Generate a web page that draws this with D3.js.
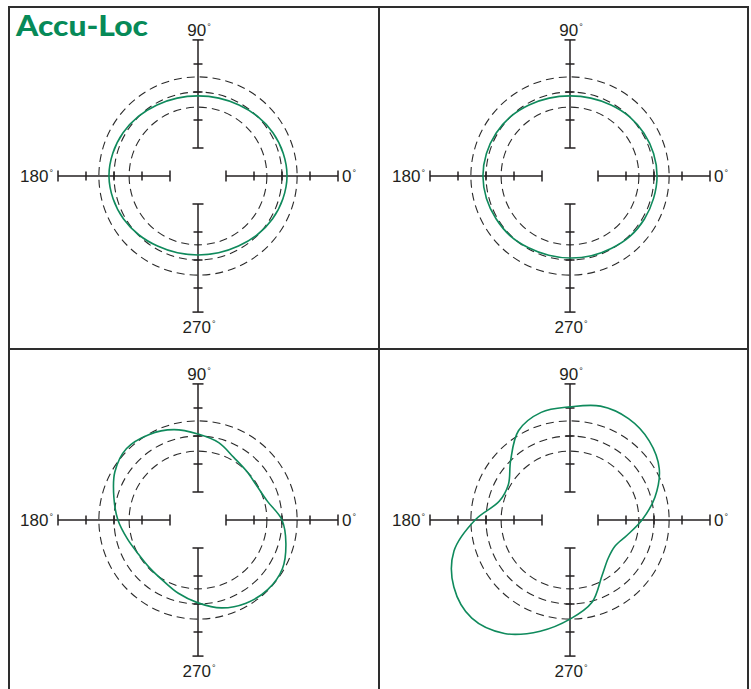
<!DOCTYPE html>
<html>
<head>
    <meta charset="utf-8">
    <script src="https://cdn.jsdelivr.net/npm/d3@7"></script>
    <title>Accu-Loc</title>
    <style>
        * {
            margin: 0;
            padding: 0;
        }

        body {
            background: #ffffff;
        }

        #chart {
            display: block;
        }
    </style>
</head>
<body>

    <svg id="chart" width="751" height="689"></svg>

    <script>
        // angle of every reading, degrees counter-clockwise from 0°
        var angles = [0, 15, 30, 45, 60, 75, 90, 105, 120, 135, 150, 165,
            180, 195, 210, 225, 240, 255, 270, 285, 300, 315, 330, 345];

        // measured radius at each angle, one array for each panel
        var panelTopLeft = [3.18, 3.15, 3.09, 3.01, 2.93, 2.88, 2.86, 2.88, 2.93, 3.01, 3.09, 3.15,
            3.18, 3.14, 3.07, 2.98, 2.89, 2.84, 2.82, 2.84, 2.89, 2.98, 3.07, 3.14];
        var panelTopRight = [3.11, 3.09, 3.05, 3.00, 2.93, 2.88, 2.86, 2.88, 2.93, 3.00, 3.05, 3.09,
            3.11, 3.09, 3.05, 3.02, 2.96, 2.93, 2.93, 2.95, 2.98, 3.04, 3.07, 3.09];
        var panelBottomLeft = [3.00, 2.57, 2.43, 2.46, 2.57, 2.86, 3.07, 3.34, 3.52, 3.61, 3.43, 3.11,
            2.86, 2.61, 2.45, 2.43, 2.50, 2.71, 2.96, 3.25, 3.43, 3.52, 3.48, 3.25];
        var panelBottomRight = [2.57, 3.14, 3.68, 4.00, 4.18, 4.21, 4.04, 3.98, 3.68, 3.00, 2.54, 2.61,
            3.39, 4.29, 4.79, 4.96, 4.68, 4.11, 3.54, 3.04, 2.29, 1.93, 1.86, 2.11];

        // axis: arm start/end, tick marks, dashed tolerance circles
        var armStart = 1;
        var armEndH = 5;
        var armEndV = 4.86;
        var tickValues = [2, 3, 4];
        var bandRadii = [2.46, 3, 3.54];
        var axisAngles = [0, 90, 180, 270];

        var green = "#0f8a5c";
        var ink = "#231f20";

        var svg = d3.select("#chart");

        var r = d3.scaleLinear()
            .domain([0, 5])
            .range([0, 140]);

        var panels = [
            { data: panelTopLeft, cx: 198, cy: 176 },
            { data: panelTopRight, cx: 570, cy: 176 },
            { data: panelBottomLeft, cx: 198, cy: 520 },
            { data: panelBottomRight, cx: 570, cy: 520 }
        ];

        // frame
        svg.append("rect")
            .attr("x", 9)
            .attr("y", 7)
            .attr("width", 739)
            .attr("height", 700)
            .attr("fill", "none")
            .attr("stroke", "#2e2e2e")
            .attr("stroke-width", 2);
        svg.append("line")
            .attr("x1", 379).attr("x2", 379)
            .attr("y1", 7).attr("y2", 689)
            .attr("stroke", "#2e2e2e")
            .attr("stroke-width", 2);
        svg.append("line")
            .attr("x1", 9).attr("x2", 748)
            .attr("y1", 349).attr("y2", 349)
            .attr("stroke", "#2e2e2e")
            .attr("stroke-width", 2);

        svg.append("text")
            .attr("x", 16)
            .attr("y", 36)
            .attr("textLength", 132)
            .attr("lengthAdjust", "spacingAndGlyphs")
            .style("font-family", "Lato, 'Open Sans', sans-serif")
            .style("font-weight", "900")
            .style("font-size", "28px")
            .style("fill", "#078a58")
            .text("Accu-Loc");

        var line = d3.lineRadial()
            .angle(function (d) { return Math.PI / 2 - d.a * Math.PI / 180; })
            .radius(function (d) { return r(d.v); })
            .curve(d3.curveCatmullRomClosed.alpha(0.5));

        panels.forEach(function (p) {
            var g = svg.append("g")
                .attr("transform", "translate(" + p.cx + "," + p.cy + ")");

            // dashed circles
            g.selectAll("circle.band")
                .data(bandRadii)
                .enter()
                .append("circle")
                .attr("class", "band")
                .attr("r", function (d) { return r(d); })
                .attr("fill", "none")
                .attr("stroke", "#2a2a2a")
                .attr("stroke-width", 1.1)
                .attr("stroke-dasharray", "8,5");

            // four arms
            axisAngles.forEach(function (deg) {
                var horiz = deg == 0 || deg == 180;
                var sign = (deg == 0 || deg == 270) ? 1 : -1;
                var end = horiz ? armEndH : armEndV;
                var arm = g.append("g")
                    .attr("stroke", ink)
                    .attr("stroke-width", 1.5);

                function pos(v) { return sign * r(v); }

                if (horiz) {
                    arm.append("line")
                        .attr("x1", pos(armStart)).attr("x2", pos(end))
                        .attr("y1", 0).attr("y2", 0);
                    arm.selectAll("line.cap")
                        .data([armStart, end])
                        .enter().append("line")
                        .attr("x1", pos).attr("x2", pos)
                        .attr("y1", -5.5).attr("y2", 5.5);
                    arm.selectAll("line.tick")
                        .data(tickValues)
                        .enter().append("line")
                        .attr("x1", pos).attr("x2", pos)
                        .attr("y1", -4.5).attr("y2", 4.5);
                } else {
                    arm.append("line")
                        .attr("y1", pos(armStart)).attr("y2", pos(end))
                        .attr("x1", 0).attr("x2", 0);
                    arm.selectAll("line.cap")
                        .data([armStart, end])
                        .enter().append("line")
                        .attr("y1", pos).attr("y2", pos)
                        .attr("x1", -5.5).attr("x2", 5.5);
                    arm.selectAll("line.tick")
                        .data(tickValues)
                        .enter().append("line")
                        .attr("y1", pos).attr("y2", pos)
                        .attr("x1", -4.5).attr("x2", 4.5);
                }

                var label = g.append("text")
                    .style("font-family", "'Liberation Sans', Arial, sans-serif")
                    .style("font-size", "17px")
                    .style("fill", ink);
                if (deg == 0) {
                    label.attr("x", r(armEndH) + 4).attr("y", 6).attr("text-anchor", "start");
                } else if (deg == 180) {
                    label.attr("x", -r(armEndH) - 5).attr("y", 6).attr("text-anchor", "end");
                } else if (deg == 90) {
                    label.attr("x", 1).attr("y", -r(5)).attr("text-anchor", "middle");
                } else {
                    label.attr("x", 1).attr("y", r(5) + 17).attr("text-anchor", "middle");
                }
                label.append("tspan").text(deg);
                label.append("tspan")
                    .attr("dy", -6)
                    .attr("dx", 1)
                    .style("font-size", "9px")
                    .text("°");
            });

            // measured profile
            var pts = angles.map(function (a, i) { return { a: a, v: p.data[i] }; });
            g.append("path")
                .attr("d", line(pts))
                .attr("fill", "none")
                .attr("stroke", green)
                .attr("stroke-width", 1.6);
        });
    </script>
</body>
</html>
